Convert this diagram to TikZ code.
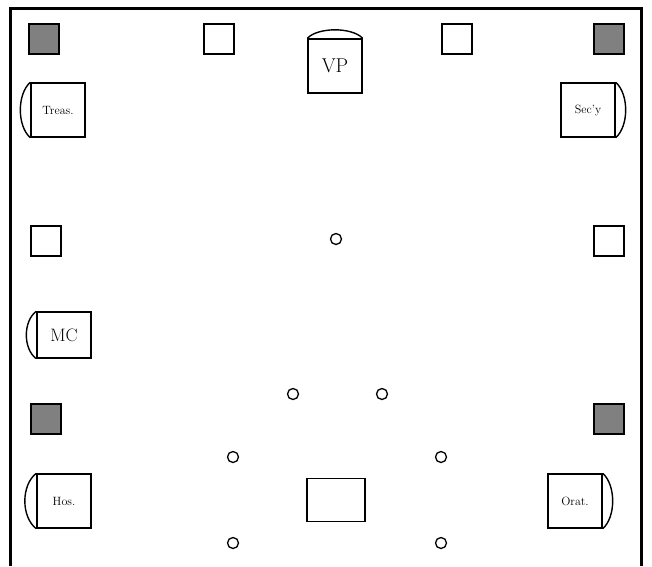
\documentclass[tikz,border=0pt]{standalone}
\begin{document}
\begin{tikzpicture}[x=1pt,y=-1pt,
  box/.style={draw,line width=1.4pt,fill=white},
  gray/.style={draw,line width=1.4pt,fill=gray!85!black},
  seat/.style={draw,line width=1.3pt,fill=white,minimum width=30pt,minimum height=30pt,inner sep=0pt},
  gseat/.style={seat,fill=black!50},
  chair/.style={draw,line width=1.4pt,fill=white,minimum width=54pt,minimum height=54pt,inner sep=0pt},
  dot/.style={draw,line width=1.3pt,circle,minimum size=11pt,inner sep=0pt},
  arcl/.style={line width=1.4pt}]
\useasboundingbox (0,0) rectangle (652,566);
\draw[line width=3pt] (10,566) -- (10,8) -- (641,8) -- (641,566);
% squares
\node[gseat] (g1) at (44,39) {};
\node[seat] (w1) at (219,39) {};
\node[seat] (w2) at (457,39) {};
\node[gseat] (g2) at (609,39) {};
\node[seat] (w3) at (46,241) {};
\node[seat] (w4) at (609,241) {};
\node[gseat] (g3) at (46,419) {};
\node[gseat] (g4) at (609,419) {};
% chairs
\node[chair,font=\fontsize{20}{22}\selectfont] (vp) at (335,66) {VP};
\draw[arcl] (vp.north west) .. controls (318,27) and (352,27) .. (vp.north east);
\node[chair,font=\fontsize{12}{14}\selectfont] (tr) at (58,110) {Treas.};
\draw[arcl] (tr.north west) .. controls (17,94) and (17,126) .. (tr.south west);
\node[chair,font=\fontsize{12}{14}\selectfont] (sc) at (588,110) {Sec'y};
\draw[arcl] (sc.north east) .. controls (629,94) and (629,126) .. (sc.south east);
\node[chair,minimum height=46pt,font=\fontsize{18}{20}\selectfont] (mc) at (64,335) {MC};
\draw[arcl] (mc.north west) .. controls (23,321) and (23,349) .. (mc.south west);
\node[chair,font=\fontsize{12}{14}\selectfont] (hos) at (64,501) {Hos.};
\draw[arcl] (hos.north west) .. controls (21,485) and (21,517) .. (hos.south west);
\node[chair,font=\fontsize{12}{14}\selectfont] (or) at (575,501) {Orat.};
\draw[arcl] (or.north east) .. controls (616,485) and (616,517) .. (or.south east);
\node[draw,line width=1.4pt,minimum width=58pt,minimum height=43pt,inner sep=0pt] (tab) at (336,500) {};
% dots
\node[dot] (d0) at (336,239) {};
\node[dot] (d1) at (293,394) {};
\node[dot] (d2) at (382,394) {};
\node[dot] (d3) at (233,457) {};
\node[dot] (d4) at (441,457) {};
\node[dot] (d5) at (233,543) {};
\node[dot] (d6) at (441,543) {};
\end{tikzpicture}
\end{document}
